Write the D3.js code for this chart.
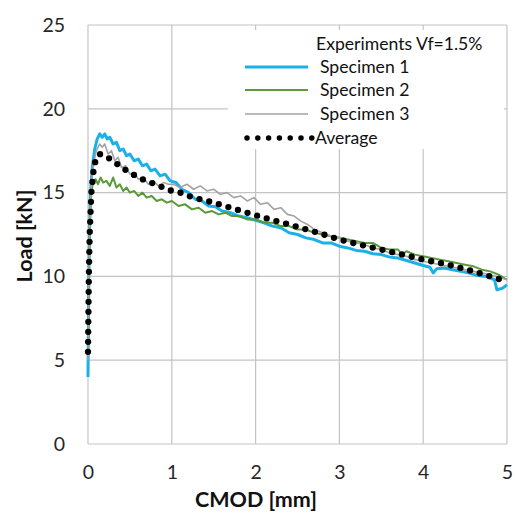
<!DOCTYPE html>
<html>
<head>
<meta charset="utf-8">
<script src="https://cdn.jsdelivr.net/npm/d3@7"></script>
<style>
  html, body { margin: 0; padding: 0; background: #fff; }
  svg { display: block; font-family: Lato, "Open Sans", sans-serif; }
</style>
</head>
<body>
<svg id="chart" width="515" height="513"></svg>
<script>
// ---- data (CMOD [mm], Load [kN]) ----
const xTicks = [0, 1, 2, 3, 4, 5];
const yTicks = [0, 5, 10, 15, 20, 25];
const legendTitle = "Experiments Vf=1.5%";
const seriesNames = ["Specimen 1", "Specimen 2", "Specimen 3", "Average"];

const specimen1 = [
  [0,4.0],[0.005,7],[0.01,10],[0.02,13],[0.03,15],[0.05,16.5],[0.08,17.6],[0.11,18.2],
  [0.14,18.5],[0.17,18.3],[0.2,18.5],[0.23,18.2],[0.26,18.3],[0.3,17.9],[0.34,18.0],
  [0.38,17.5],[0.42,17.6],[0.46,17.2],[0.5,17.3],[0.55,16.9],[0.6,17.0],[0.65,16.6],
  [0.7,16.7],[0.75,16.3],[0.8,16.4],[0.86,16.0],[0.92,16.1],[0.98,15.7],[1.05,15.6],
  [1.12,15.2],[1.2,15.0],[1.28,14.6],[1.36,14.5],[1.44,14.2],[1.52,14.15],[1.6,13.9],
  [1.7,13.8],[1.8,13.6],[1.9,13.5],[2.0,13.35],[2.1,13.2],[2.2,13.0],[2.3,12.9],
  [2.4,12.6],[2.5,12.5],[2.6,12.3],[2.7,12.2],[2.8,12.0],[2.9,12.0],[3.0,11.8],
  [3.1,11.7],[3.2,11.55],[3.3,11.5],[3.4,11.35],[3.5,11.3],[3.6,11.15],[3.7,11.1],
  [3.8,10.95],[3.9,10.8],[4.0,10.65],[4.08,10.55],[4.12,10.2],[4.16,10.45],[4.25,10.5],
  [4.35,10.4],[4.45,10.3],[4.55,10.2],[4.65,10.05],[4.75,10.0],[4.85,9.8],[4.88,9.2],
  [4.95,9.3],[5.0,9.5]
];
const specimen2 = [
  [0,5.5],[0.01,10],[0.02,13],[0.04,15],[0.06,15.6],[0.09,15.8],[0.12,15.5],[0.15,15.9],
  [0.18,15.6],[0.22,15.7],[0.26,15.4],[0.3,15.9],[0.34,15.3],[0.38,15.5],[0.42,15.1],
  [0.46,15.3],[0.5,15.0],[0.55,15.1],[0.6,14.8],[0.65,15.0],[0.7,14.7],[0.76,14.8],
  [0.82,14.5],[0.88,14.6],[0.94,14.4],[1.0,14.5],[1.08,14.2],[1.16,14.3],[1.24,14.0],
  [1.32,14.1],[1.4,13.8],[1.48,13.9],[1.56,13.7],[1.64,13.8],[1.72,13.6],[1.8,13.6],
  [1.9,13.4],[2.0,13.4],[2.1,13.2],[2.2,13.2],[2.3,13.0],[2.4,13.0],[2.5,12.8],
  [2.6,12.8],[2.7,12.6],[2.8,12.5],[2.9,12.4],[3.0,12.3],[3.1,12.2],[3.2,12.1],
  [3.3,12.0],[3.4,12.0],[3.5,11.7],[3.6,11.6],[3.7,11.6],[3.75,11.3],[3.8,11.5],
  [3.9,11.3],[4.0,11.2],[4.1,11.1],[4.2,11.0],[4.3,10.9],[4.4,10.8],[4.5,10.7],
  [4.6,10.6],[4.7,10.4],[4.8,10.3],[4.9,10.1],[5.0,9.8]
];
const specimen3 = [
  [0,5],[0.01,10],[0.02,13],[0.04,15.5],[0.07,16.8],[0.1,17.5],[0.14,17.9],[0.17,17.7],
  [0.2,17.9],[0.24,17.3],[0.28,17.5],[0.32,16.9],[0.36,17.1],[0.4,16.5],[0.45,16.6],
  [0.5,16.1],[0.55,16.2],[0.6,15.8],[0.66,15.9],[0.72,15.5],[0.78,15.7],[0.84,15.4],
  [0.9,15.6],[0.96,15.5],[1.02,15.5],[1.1,15.3],[1.18,15.5],[1.26,15.2],[1.34,15.4],
  [1.42,15.1],[1.5,15.2],[1.58,14.9],[1.66,15.0],[1.74,14.7],[1.82,14.8],[1.9,14.5],
  [1.98,14.7],[2.06,14.3],[2.14,14.4],[2.22,14.0],[2.3,14.1],[2.38,13.7],[2.46,13.6],
  [2.54,13.3],[2.62,13.1],[2.7,12.8],[2.8,12.6],[2.9,12.4],[3.0,12.3],[3.1,12.1],
  [3.2,12.0],[3.3,11.9],[3.4,11.7],[3.5,11.6],[3.6,11.4],[3.7,11.3],[3.8,11.2],
  [3.9,11.0],[4.0,10.9],[4.2,10.7],[4.4,10.5],[4.6,10.3],[4.8,10.1],[5.0,9.8]
];
const average = [
  [0,5.5],[0.01,10],[0.02,12.5],[0.04,15],[0.07,16.5],[0.1,17.1],[0.14,17.3],[0.2,17.2],
  [0.3,16.9],[0.4,16.5],[0.5,16.2],[0.6,15.9],[0.7,15.7],[0.8,15.5],[0.9,15.3],
  [1.0,15.1],[1.1,15.0],[1.2,14.8],[1.34,14.6],[1.5,14.4],[1.7,14.1],[1.9,13.8],
  [2.1,13.5],[2.4,13.1],[2.75,12.6],[3.0,12.2],[3.2,11.95],[3.5,11.6],[3.8,11.25],
  [4.0,11.0],[4.3,10.7],[4.6,10.3],[5.0,9.7]
];

// ---- layout ----
const svg = d3.select("#chart");
const pLeft = 88, pRight = 507, pTop = 25, pBottom = 444;
const x = d3.scaleLinear().domain([0, 5]).range([pLeft, pRight]);
const y = d3.scaleLinear().domain([0, 25]).range([pBottom, pTop]);
const gridColor = "#c4c4c4";

// gridlines
svg.append("g").selectAll("line").data(yTicks).join("line")
  .attr("x1", pLeft).attr("x2", pRight)
  .attr("y1", d => y(d)).attr("y2", d => y(d))
  .attr("stroke", gridColor).attr("stroke-width", 1.2);
svg.append("g").selectAll("line").data(xTicks).join("line")
  .attr("x1", d => x(d)).attr("x2", d => x(d))
  .attr("y1", pTop).attr("y2", pBottom)
  .attr("stroke", gridColor).attr("stroke-width", 1.2);

// axes (labels only)
const yAxis = svg.append("g").attr("transform", `translate(${pLeft},0)`)
  .call(d3.axisLeft(y).tickValues(yTicks).tickFormat(d3.format("d")).tickSize(0).tickPadding(23));
yAxis.select(".domain").remove();
yAxis.selectAll("text").attr("font-size", 19.5).attr("fill", "#262626")
  .attr("font-family", "Lato, sans-serif");

const xAxis = svg.append("g").attr("transform", `translate(0,${pBottom})`)
  .call(d3.axisBottom(x).tickValues(xTicks).tickFormat(d3.format("d")).tickSize(0).tickPadding(21));
xAxis.select(".domain").remove();
xAxis.selectAll("text").attr("font-size", 19.5).attr("fill", "#262626")
  .attr("font-family", "Lato, sans-serif");

// axis titles
svg.append("text").attr("x", 256).attr("y", 507).attr("text-anchor", "middle")
  .attr("font-size", 21.5).attr("font-weight", "bold").attr("fill", "#111")
  .text("CMOD [mm]");
svg.append("text").attr("transform", "translate(32,236) rotate(-90)")
  .attr("text-anchor", "middle")
  .attr("font-size", 21.5).attr("font-weight", "bold").attr("fill", "#111")
  .text("Load [kN]");

// lines
const line = d3.line().x(d => x(d[0])).y(d => y(d[1]));
const styles = [
  { data: specimen1, color: "#1cb0e8", width: 3 },
  { data: specimen2, color: "#5a9a38", width: 2 },
  { data: specimen3, color: "#a3a3a3", width: 1.6 }
];
styles.forEach(s => {
  svg.append("path").datum(s.data).attr("d", line)
    .attr("fill", "none").attr("stroke", s.color).attr("stroke-width", s.width)
    .attr("stroke-linejoin", "round");
});
svg.append("path").datum(average).attr("d", line)
  .attr("fill", "none").attr("stroke", "#000").attr("stroke-width", 6.3)
  .attr("stroke-linecap", "round").attr("stroke-dasharray", "0 10");

// legend
const lg = svg.append("g");
lg.append("rect").attr("x", 228).attr("y", 30).attr("width", 276).attr("height", 119)
  .attr("fill", "#fff");
lg.append("text").attr("x", 316).attr("y", 50).attr("font-size", 17.6).attr("fill", "#111")
  .text(legendTitle);
const legRows = [
  { name: seriesNames[0], color: "#1cb0e8", width: 3, yy: 67, tx: 320 },
  { name: seriesNames[1], color: "#5a9a38", width: 2, yy: 90, tx: 320 },
  { name: seriesNames[2], color: "#a3a3a3", width: 1.6, yy: 114, tx: 320 },
];
legRows.forEach(r => {
  lg.append("line").attr("x1", 245).attr("x2", 308).attr("y1", r.yy).attr("y2", r.yy)
    .attr("stroke", r.color).attr("stroke-width", r.width);
  lg.append("text").attr("x", r.tx).attr("y", r.yy + 6).attr("font-size", 17.6)
    .attr("fill", "#111").text(r.name);
});
lg.append("line").attr("x1", 247).attr("x2", 312).attr("y1", 138).attr("y2", 138)
  .attr("stroke", "#000").attr("stroke-width", 5.5).attr("stroke-linecap", "round")
  .attr("stroke-dasharray", "0 10.8");
lg.append("text").attr("x", 315).attr("y", 144).attr("font-size", 17.6)
  .attr("fill", "#111").text(seriesNames[3]);
</script>
</body>
</html>
